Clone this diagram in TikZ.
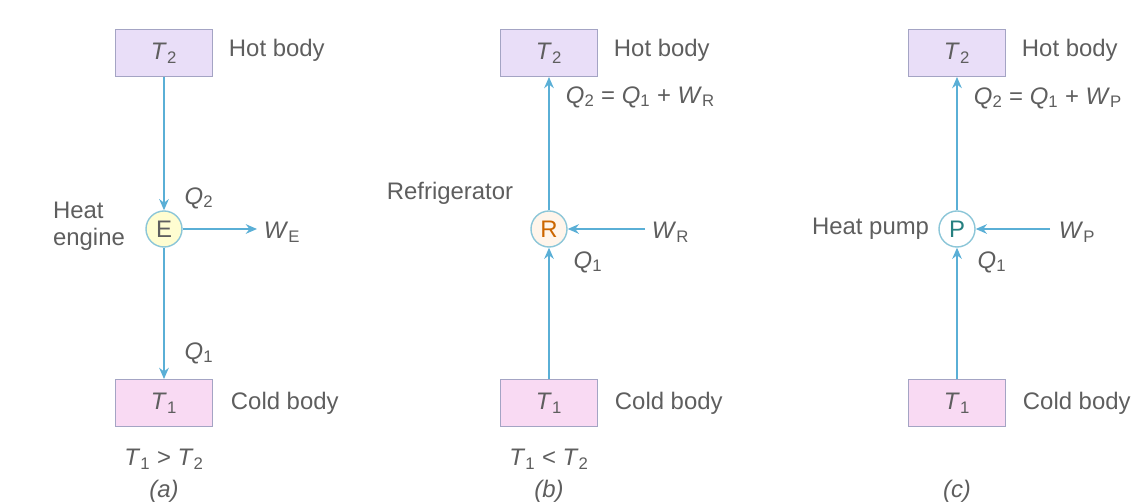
\documentclass[tikz,border=0pt]{standalone}
\usepackage{fontspec}
\setmainfont{Liberation Sans}
\usetikzlibrary{arrows.meta}

\definecolor{flowblue}{HTML}{5AAFD6}
\definecolor{ringblue}{HTML}{8CC6D8}
\definecolor{boxedge}{HTML}{A4A4C4}
\definecolor{hotfill}{HTML}{E9DEF8}
\definecolor{coldfill}{HTML}{F9DAF3}
\definecolor{inkgray}{HTML}{5E5E5E}

\newcommand{\qty}[2]{\textit{#1}\textsubscript{#2}}

\begin{document}
\begin{tikzpicture}[
  x=0.025cm, y=-0.025cm,
  every node/.style={text=inkgray, font=\fontsize{17}{19}\selectfont},
  body/.style={rectangle, draw=boxedge, line width=0.8pt, minimum width=2.42cm, minimum height=1.17cm},
  device/.style={circle, draw=ringblue, line width=1pt, minimum size=0.9cm, inner sep=0pt},
  flow/.style={-{Stealth[length=2.8mm, width=2.4mm]}, flowblue, line width=1.2pt},
  tag/.style={anchor=west}
]
\useasboundingbox (0,0) rectangle (1140,503);

% (a) heat engine
\node[body, fill=hotfill] (hotA) at (164, 53) {\qty{T}{2}};
\node[device, fill=yellow!18] (eng) at (164, 229) {E};
\node[body, fill=coldfill] (coldA) at (164, 403) {\qty{T}{1}};
\coordinate (wA) at (257, 229);

\node[tag] (hotAt) at (224, 50) {Hot body};
\node[tag] (coldAt) at (226, 403) {Cold body};
\node[align=left] (engt) at (89, 226) {Heat\\engine};
\node (q2A) at (199, 198) {\qty{Q}{2}};
\node (q1A) at (199, 353) {\qty{Q}{1}};
\node[tag] (wAt) at (259, 232) {\textit{W}\textsubscript{E}};
\node (condA) at (164, 459) {\qty{T}{1} > \qty{T}{2}};
\node (capA) at (164, 491) {\textit{(a)}};

\draw[flow] (hotA.south) -- (eng.north);
\draw[flow] (eng.south) -- (coldA.north);
\draw[flow] (eng.east) -- (wA);

% (b) refrigerator
\node[body, fill=hotfill] (hotB) at (549, 53) {\qty{T}{2}};
\node[device, fill=orange!8, text=orange!80!black] (fridge) at (549, 229) {R};
\node[body, fill=coldfill] (coldB) at (549, 403) {\qty{T}{1}};
\coordinate (wB) at (645, 229);

\node[tag] (hotBt) at (609, 50) {Hot body};
\node[tag] (coldBt) at (610, 403) {Cold body};
\node (fridget) at (450, 193) {Refrigerator};
\node[tag] (q2Bt) at (561, 97) {\qty{Q}{2} = \qty{Q}{1} + \qty{W}{R}};
\node (q1B) at (588, 262) {\qty{Q}{1}};
\node[tag] (wBt) at (647, 232) {\qty{W}{R}};
\node (condB) at (549, 459) {\qty{T}{1} < \qty{T}{2}};
\node (capB) at (549, 491) {\textit{(b)}};

\draw[flow] (coldB.north) -- (fridge.south);
\draw[flow] (fridge.north) -- (hotB.south);
\draw[flow] (wB) -- (fridge.east);

% (c) heat pump
\node[body, fill=hotfill] (hotC) at (957, 53) {\qty{T}{2}};
\node[device, fill=white, text=teal!70!gray] (pump) at (957, 229) {P};
\node[body, fill=coldfill] (coldC) at (957, 403) {\qty{T}{1}};
\coordinate (wC) at (1050, 229);

\node[tag] (hotCt) at (1017, 50) {Hot body};
\node[tag] (coldCt) at (1018, 403) {Cold body};
\node[anchor=east] (pumpt) at (934, 229) {Heat pump};
\node[tag] (q2Ct) at (969, 98) {\qty{Q}{2} = \qty{Q}{1} + \qty{W}{P}};
\node (q1C) at (992, 262) {\qty{Q}{1}};
\node[tag] (wCt) at (1054, 232) {\qty{W}{P}};
\node (capC) at (957, 491) {\textit{(c)}};

\draw[flow] (coldC.north) -- (pump.south);
\draw[flow] (pump.north) -- (hotC.south);
\draw[flow] (wC) -- (pump.east);

\end{tikzpicture}
\end{document}
